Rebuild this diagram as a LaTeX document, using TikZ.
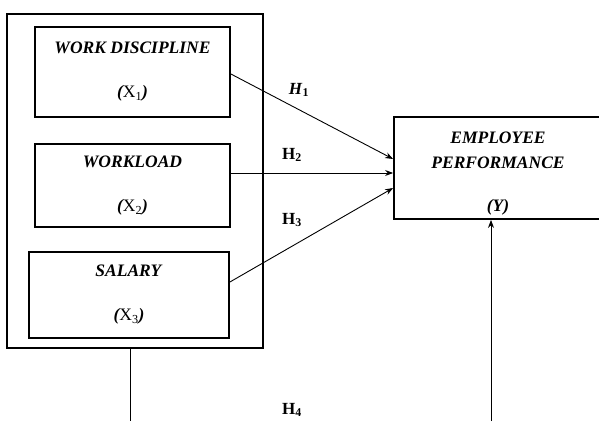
\documentclass[tikz,border=0pt]{standalone}
\usepackage{fontspec}
\setmainfont{Liberation Serif}
\usetikzlibrary{arrows.meta}
\newcommand{\varlabel}[1]{{\bfseries\itshape (}X\textsubscript{#1}{\bfseries\itshape )}}
\begin{document}
\begin{tikzpicture}[x=1pt,y=-1pt,
	varbox/.style={draw,line width=1.8pt,inner sep=0pt,align=center,font=\fontsize{17.5}{22}\selectfont},
	hyp/.style={font=\fontsize{17}{20}\selectfont\bfseries},
	link/.style={line width=0.9pt,-{Stealth[length=8pt,width=6pt]}}]
	\clip (0,0) rectangle (599,421);
	\useasboundingbox (0,0) rectangle (599,421);
	\node[draw,line width=1.8pt,minimum width=256pt,minimum height=334pt] (group) at (135,181) {};
	\node[varbox,minimum width=195pt,minimum height=90pt] (wd) at (132.5,72)
		{\textbf{\textit{WORK DISCIPLINE}}\\[22pt]\varlabel{1}};
	\node[varbox,minimum width=195pt,minimum height=83pt] (wl) at (132.5,185.5)
		{\textbf{\textit{WORKLOAD}}\\[22pt]\varlabel{2}};
	\node[varbox,minimum width=200pt,minimum height=86pt] (sal) at (129,295)
		{\textbf{\textit{SALARY}}\\[22pt]\varlabel{3}};
	\node[varbox,minimum width=208pt,minimum height=102pt] (perf) at (498,168)
		{\rule{0pt}{22pt}\textbf{\textit{EMPLOYEE}}\\[3pt]\textbf{\textit{PERFORMANCE}}\\[21pt]\textbf{\textit{(Y)}}};
	\coordinate (tip1) at ([yshift=9pt]perf.west);
	\coordinate (tip2) at ([yshift=-5pt]perf.west);
	\coordinate (tip3) at ([yshift=-20pt]perf.west);
	\coordinate (leftfoot) at (130,421);
	\coordinate (rightfoot) at (491,421);
	\draw[link] ([yshift=-2pt]wd.east) -- (tip1);
	\draw[link] (wl.east |- tip2) -- (tip2);
	\draw[link] ([yshift=13pt]sal.east) -- (tip3);
	\draw[line width=0.9pt] (group.south -| leftfoot) -- (leftfoot);
	\draw[link] (rightfoot) -- (perf.south -| rightfoot);
	\node[hyp] (h1) at (299,90) {\textit{H}\textsubscript{1}};
	\node[hyp] (h2) at (292,155) {H\textsubscript{2}};
	\node[hyp] (h3) at (292,220) {H\textsubscript{3}};
	\node[hyp] (h4) at (292,410) {H\textsubscript{4}};
\end{tikzpicture}
\end{document}
